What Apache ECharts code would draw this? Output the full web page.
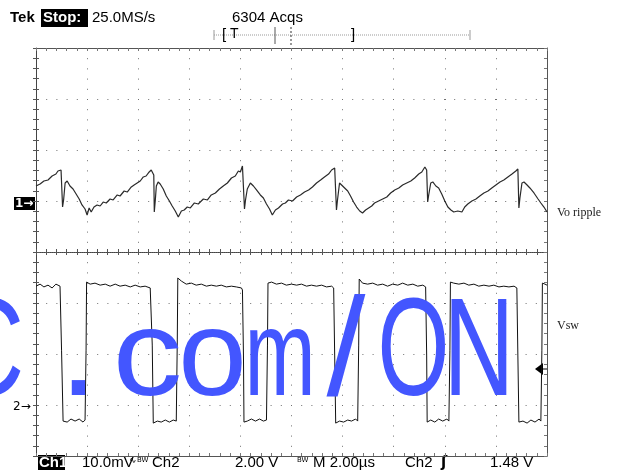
<!DOCTYPE html>
<html><head><meta charset="utf-8">
<script src="https://cdn.jsdelivr.net/npm/echarts@6/dist/echarts.min.js"></script>
<style>html,body{margin:0;padding:0;background:#fff}#c{width:627px;height:470px}</style>
</head><body><div id="c"></div>
<script>
// time axis in microseconds (M 2.00us/div, 10 div)
const timeTicks = [0, 2, 4, 6, 8, 10, 12, 14, 16, 18, 20];
// Ch1 : output ripple, mV (10.0 mV/div), [time us, mV]
const ch1Ripple = [
[0,2.94],[0.16,3.33],[0.31,3.92],[0.47,4.12],[0.63,4.90],[0.78,5.29],[0.86,5.88],[0.98,6.08],[1.02,5.69],[1.04,-1.18],[1.08,0.2],[1.14,3.53],[1.22,3.92],[1.33,2.94],[1.45,2.35],[1.57,1.37],[1.69,0.39],[1.80,-0.78],[1.92,-1.57],[2.00,-2.75],[2.08,-1.37],[2.16,-2.16],[2.27,-1.18],[2.39,-0.78],[2.51,-0.98],[2.63,-0.20],[2.75,-0.39],[2.90,0.39],[3.02,0.20],[3.18,1.18],[3.29,0.98],[3.45,1.96],[3.57,1.76],[3.73,2.75],[3.84,3.14],[3.96,3.53],[4.08,3.92],[4.20,4.71],[4.31,4.90],[4.43,5.69],[4.51,6.08],[4.57,6.47],[4.61,5.10],[4.63,-2.16],[4.67,0.2],[4.71,2.94],[4.78,3.73],[4.86,3.33],[4.98,2.35],[5.10,0.98],[5.22,0],[5.33,-0.98],[5.45,-1.96],[5.57,-3.14],[5.69,-1.96],[5.80,-1.76],[5.92,-1.18],[6.04,-1.37],[6.20,-0.39],[6.35,-0.59],[6.55,0.39],[6.71,0.20],[6.86,1.18],[7.02,1.57],[7.18,2.35],[7.33,2.94],[7.49,3.53],[7.65,4.51],[7.80,4.90],[7.92,5.88],[8.00,5.69],[8.08,6.86],[8.14,6.47],[8.16,-1.57],[8.20,0.2],[8.27,2.35],[8.39,3.53],[8.51,2.94],[8.63,2.16],[8.78,1.18],[8.90,0.59],[9.02,-0.59],[9.14,-1.57],[9.25,-2.75],[9.37,-1.76],[9.49,-1.37],[9.65,-0.59],[9.76,-0.39],[9.88,0.20],[10.04,0],[10.20,0.78],[10.35,1.18],[10.51,1.76],[10.67,2.16],[10.82,2.75],[10.98,3.53],[11.14,4.12],[11.29,4.71],[11.45,5.29],[11.57,6.08],[11.69,6.47],[11.75,6.08],[11.76,-1.76],[11.80,0.2],[11.88,3.53],[11.96,3.14],[12.08,2.55],[12.20,1.96],[12.31,0.98],[12.43,-0.20],[12.55,-1.18],[12.67,-1.96],[12.78,-2.35],[12.90,-1.76],[13.02,-1.37],[13.14,-0.98],[13.25,-0.39],[13.41,0],[13.57,0.39],[13.73,0.78],[13.88,1.57],[14.04,2.16],[14.20,2.55],[14.35,3.14],[14.51,3.53],[14.67,3.92],[14.82,4.51],[14.98,5.29],[15.10,5.69],[15.22,6.67],[15.29,6.08],[15.33,-0.20],[15.37,1.18],[15.45,3.53],[15.53,3.73],[15.65,2.94],[15.76,2.55],[15.88,1.37],[16.00,0],[16.12,-1.18],[16.24,-1.76],[16.35,-2.16],[16.51,-1.96],[16.67,-2.16],[16.78,-1.18],[16.90,-0.59],[17.06,0],[17.22,0.39],[17.37,0.98],[17.53,1.57],[17.69,1.96],[17.84,2.55],[18.00,3.14],[18.16,3.73],[18.31,4.12],[18.47,4.71],[18.63,5.29],[18.78,5.88],[18.86,6.27],[18.90,-1.37],[18.94,0.59],[19.02,3.53],[19.10,3.73],[19.22,3.14],[19.33,2.55],[19.49,1.57],[19.65,0.39],[19.76,-0.39],[19.88,-1.18],[20.0,-2.16]
];
// Ch2 : switch node voltage, V (2.00 V/div), [time us, V]
const ch2Switch = [
[0,4.78],[0.16,4.86],[0.31,4.75],[0.47,4.82],[0.63,4.71],[0.78,4.86],[0.94,4.78],[0.98,4.75],[1.0,2.27],[1.04,2.20],[1.06,-0.51],
[1.22,-0.55],[1.37,-0.43],[1.53,-0.51],[1.69,-0.43],[1.84,-0.55],[1.92,-0.47],[1.96,2.27],[1.98,4.94],
[2.12,4.86],[2.31,4.90],[2.51,4.82],[2.71,4.86],[2.90,4.78],[3.10,4.86],[3.29,4.78],[3.49,4.82],[3.69,4.75],[3.88,4.82],[4.08,4.75],[4.27,4.78],[4.47,4.71],[4.51,4.75],[4.55,2.47],[4.59,-0.59],
[4.75,-0.51],[4.90,-0.55],[5.06,-0.47],[5.22,-0.55],[5.37,-0.47],[5.49,-0.51],[5.53,2.67],[5.55,5.10],
[5.69,4.98],[5.88,4.86],[6.08,4.90],[6.27,4.82],[6.47,4.86],[6.67,4.78],[6.86,4.82],[7.06,4.78],[7.25,4.82],[7.45,4.75],[7.65,4.78],[7.84,4.75],[8.04,4.71],[8.08,4.63],[8.12,2.08],[8.14,-0.55],
[8.27,-0.51],[8.43,-0.43],[8.59,-0.51],[8.75,-0.43],[8.90,-0.51],[9.02,-0.47],[9.06,2.47],[9.08,4.90],
[9.22,4.94],[9.41,4.86],[9.61,4.90],[9.80,4.82],[10.0,4.86],[10.20,4.82],[10.39,4.86],[10.59,4.78],[10.78,4.82],[10.98,4.78],[11.18,4.82],[11.37,4.75],[11.57,4.78],[11.65,4.71],[11.69,2.08],[11.73,-0.59],
[11.88,-0.51],[12.04,-0.55],[12.20,-0.47],[12.35,-0.51],[12.51,-0.43],[12.59,-0.51],[12.63,2.47],[12.65,5.06],
[12.78,4.90],[12.98,4.86],[13.18,4.90],[13.37,4.82],[13.57,4.86],[13.76,4.78],[13.96,4.86],[14.16,4.82],[14.35,4.90],[14.55,4.82],[14.75,4.86],[14.94,4.78],[15.14,4.82],[15.25,4.75],[15.29,2.08],[15.31,-0.55],
[15.45,-0.47],[15.61,-0.55],[15.76,-0.43],[15.92,-0.51],[16.08,-0.43],[16.16,-0.51],[16.20,2.27],[16.22,4.94],
[16.35,4.90],[16.55,4.86],[16.75,4.90],[16.94,4.82],[17.14,4.86],[17.33,4.78],[17.53,4.82],[17.73,4.78],[17.92,4.82],[18.12,4.75],[18.31,4.78],[18.51,4.75],[18.71,4.78],[18.82,4.71],[18.86,2.08],[18.90,-0.55],
[19.06,-0.51],[19.22,-0.59],[19.37,-0.47],[19.53,-0.55],[19.69,-0.43],[19.76,-0.51],[19.80,2.27],[19.82,4.90],[19.92,4.86],[20.0,4.82]
];
const headerTexts = ['Tek', 'Stop:', '25.0MS/s', '6304 Acqs'];
const footerTexts = ['Ch1', '10.0mV', 'Ch2', '2.00 V', 'M 2.00\u00b5s', 'Ch2', '1.48 V'];
const traceNames = ['Vo ripple', 'Vsw'];
const watermarkGlyphs = ['C', '.', 'c', 'o', 'm', '/', 'O', 'N'];

const chart = echarts.init(document.getElementById('c'), null, {renderer: 'canvas'});
const gridCol = '#707070';
const borderAxis = (pos, isX) => ({
  type: 'value', position: pos,
  min: isX ? 0 : -50, max: isX ? 20 : 30, interval: isX ? 2 : 10,
  axisLine: {show: true, onZero: false, lineStyle: {color: '#555', width: 1}},
  axisTick: {show: true, inside: true, length: 3, lineStyle: {color: '#777'}},
  minorTick: {show: true, splitNumber: 5, length: 3, lineStyle: {color: '#777'}},
  axisLabel: {show: false},
  splitLine: {show: false}
});
const xBottom = borderAxis('bottom', true);
xBottom.splitLine = {show: true, lineStyle: {color: gridCol, width: 1, type: [1, 9.2]}};
const xTop = borderAxis('top', true);
const yLeft = borderAxis('left', false);
yLeft.splitLine = {show: true, lineStyle: {color: gridCol, width: 1, type: [1, 9.2]}};
const yRight = borderAxis('right', false);
const centerAxis = (isX, inside) => ({
  type: 'value', min: isX ? 0 : -4, max: isX ? 20 : 4, interval: isX ? 2 : 1,
  axisLine: {show: true, onZero: true, onZeroAxisIndex: isX ? 3 : 4, lineStyle: {color: '#444', width: 1, type: [1, 1]}},
  axisTick: {show: true, inside: inside, length: 3, lineStyle: {color: '#555'}},
  minorTick: {show: true, splitNumber: 5, length: 3, lineStyle: {color: '#555'}},
  axisLabel: {show: false}, splitLine: {show: false}
});
const wmFont = '140px "Liberation Sans", Arial, sans-serif';
// [centre x, scaleX, scaleY]
const wmPos = [[-12, 0.72, 1], [78.5, 1.0, 1], [147.5, 1.0, 0.88], [212.5, 0.88, 0.88], [280, 0.61, 0.88], [346, 1.0, 1], [413.5, 0.66, 1], [479, 0.7, 1]];
const watermark = watermarkGlyphs.map((g, i) => ({
  type: 'text', x: wmPos[i][0], y: 356, scaleX: wmPos[i][1], scaleY: wmPos[i][2], originX: 0, originY: 42, z: 100,
  style: {text: g, font: wmFont, fill: '#4356ff', align: 'center', verticalAlign: 'middle'}
}));
const graphics = [
  {type: 'text', x: 10, y: 18, style: {text: headerTexts[0], font: 'bold 15px "Liberation Sans", Arial', fill: '#000', verticalAlign: 'middle'}},
  {type: 'rect', shape: {x: 41, y: 9, width: 47, height: 18}, style: {fill: '#000'}},
  {type: 'text', x: 43, y: 18, style: {text: headerTexts[1], font: 'bold 15px "Liberation Sans", Arial', fill: '#fff', verticalAlign: 'middle'}},
  {type: 'text', x: 92, y: 18, style: {text: headerTexts[2], font: '15px "Liberation Sans", Arial', fill: '#000', verticalAlign: 'middle'}},
  {type: 'text', x: 232, y: 18, style: {text: headerTexts[3], font: '15px "Liberation Sans", Arial', fill: '#000', verticalAlign: 'middle'}},
  // trigger position bar
  {type: 'line', shape: {x1: 214, y1: 35, x2: 470, y2: 35}, style: {stroke: '#999', lineDash: [1, 1]}},
  {type: 'line', shape: {x1: 214, y1: 30, x2: 214, y2: 40}, style: {stroke: '#999'}},
  {type: 'line', shape: {x1: 470, y1: 30, x2: 470, y2: 40}, style: {stroke: '#999'}},
  {type: 'line', shape: {x1: 275, y1: 27, x2: 275, y2: 44}, style: {stroke: '#555'}},
  {type: 'line', shape: {x1: 291, y1: 27, x2: 291, y2: 46}, style: {stroke: '#333', lineDash: [2, 2]}},
  {type: 'text', x: 222, y: 35, style: {text: '[', font: '15px "Liberation Sans", Arial', fill: '#000', verticalAlign: 'middle'}},
  {type: 'text', x: 230, y: 34, style: {text: 'T', font: '14px "Liberation Sans", Arial', fill: '#000', verticalAlign: 'middle'}},
  {type: 'text', x: 351, y: 35, style: {text: ']', font: '15px "Liberation Sans", Arial', fill: '#000', verticalAlign: 'middle'}},
  // channel markers
  {type: 'rect', shape: {x: 14, y: 197, width: 21, height: 13}, style: {fill: '#000'}},
  {type: 'text', x: 15, y: 204, style: {text: '1\u2192', font: 'bold 12px "DejaVu Sans", sans-serif', fill: '#fff', verticalAlign: 'middle'}},
  {type: 'text', x: 13, y: 407, style: {text: '2\u2192', font: '12px "DejaVu Sans", sans-serif', fill: '#000', verticalAlign: 'middle'}},
  // trigger level marker
  {type: 'polygon', shape: {points: [[535, 369], [543, 363], [543, 375]]}, style: {fill: '#000'}},
  {type: 'line', shape: {x1: 543, y1: 369, x2: 547, y2: 369}, style: {stroke: '#000'}},
  // trace names
  {type: 'text', x: 557, y: 213, style: {text: traceNames[0], font: '12px "Liberation Serif", serif', fill: '#222', verticalAlign: 'middle'}},
  {type: 'text', x: 557, y: 326, style: {text: traceNames[1], font: '12px "Liberation Serif", serif', fill: '#222', verticalAlign: 'middle'}},
  // footer
  {type: 'rect', shape: {x: 38, y: 455, width: 27, height: 15}, style: {fill: '#000'}},
  {type: 'text', x: 39, y: 463, style: {text: footerTexts[0], font: 'bold 15px "Liberation Sans", Arial', fill: '#fff', verticalAlign: 'middle'}},
  {type: 'text', x: 82, y: 463, style: {text: footerTexts[1], font: '15px "Liberation Sans", Arial', fill: '#000', verticalAlign: 'middle'}},
  {type: 'text', x: 129, y: 461, style: {text: '\u223f', font: '9px "DejaVu Sans"', fill: '#000', verticalAlign: 'middle'}},
  {type: 'text', x: 137, y: 460, style: {text: 'BW', font: '7px "DejaVu Sans"', fill: '#000', verticalAlign: 'middle'}},
  {type: 'text', x: 152, y: 463, style: {text: footerTexts[2], font: '15px "Liberation Sans", Arial', fill: '#000', verticalAlign: 'middle'}},
  {type: 'text', x: 235, y: 463, style: {text: footerTexts[3], font: '15px "Liberation Sans", Arial', fill: '#000', verticalAlign: 'middle'}},
  {type: 'text', x: 297, y: 460, style: {text: 'BW', font: '7px "DejaVu Sans"', fill: '#000', verticalAlign: 'middle'}},
  {type: 'text', x: 313, y: 463, style: {text: footerTexts[4], font: '15px "Liberation Sans", Arial', fill: '#000', verticalAlign: 'middle'}},
  {type: 'text', x: 405, y: 463, style: {text: footerTexts[5], font: '15px "Liberation Sans", Arial', fill: '#000', verticalAlign: 'middle'}},
  {type: 'text', x: 441, y: 463, style: {text: '\u0283', font: 'bold 15px "DejaVu Sans"', fill: '#000', verticalAlign: 'middle'}},
  {type: 'text', x: 490, y: 463, style: {text: footerTexts[6], font: '15px "Liberation Sans", Arial', fill: '#000', verticalAlign: 'middle'}}
].concat(watermark);

chart.setOption({
  animation: false,
  backgroundColor: '#fff',
  grid: {left: 36, top: 48, width: 511, height: 408, containLabel: false},
  xAxis: [xBottom, xTop, centerAxis(true, true), {type: 'value', min: -10, max: 10, show: false}, centerAxis(true, false)],
  yAxis: [yLeft, yRight, {type: 'value', min: -1.88, max: 14.12, show: false}, centerAxis(false, true), {type: 'value', min: -4, max: 4, show: false}, centerAxis(false, false)],
  series: [
    {name: traceNames[0], type: 'line', xAxisIndex: 0, yAxisIndex: 0, data: ch1Ripple, showSymbol: false, lineStyle: {color: '#2a2a2a', width: 1.2}, z: 5},
    {name: traceNames[1], type: 'line', xAxisIndex: 0, yAxisIndex: 2, data: ch2Switch, showSymbol: false, lineStyle: {color: '#111', width: 1}, z: 5}
  ],
  graphic: graphics
});
</script></body></html>
